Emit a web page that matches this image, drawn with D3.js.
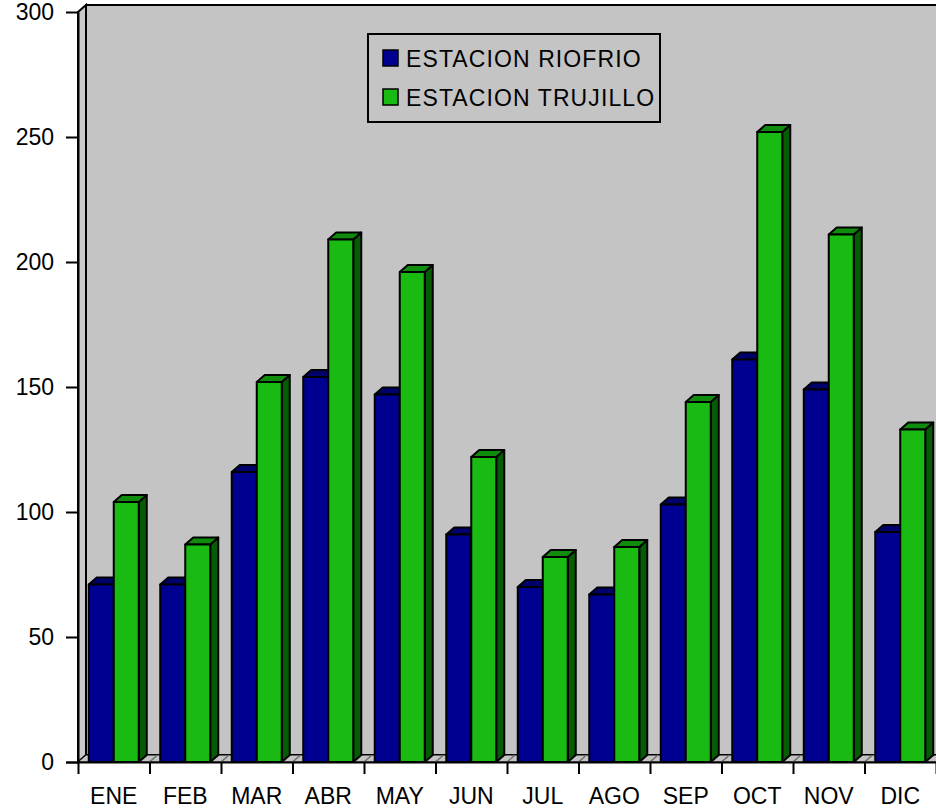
<!DOCTYPE html>
<html>
<head>
<meta charset="utf-8">
<script src="https://cdn.jsdelivr.net/npm/d3@7"></script>
<style>
	body { margin: 0; background: #fff; }
	text { font-family: "Liberation Sans", Arial, sans-serif; fill: #000; }
</style>
</head>
<body>
<script>
let months =	['ENE', 'FEB', 'MAR', 'ABR', 'MAY', 'JUN', 'JUL', 'AGO', 'SEP', 'OCT', 'NOV', 'DIC']
let riofrio =	[71, 71, 116, 154, 147, 91, 70, 67, 103, 161, 149, 92]
let trujillo =	[104, 87, 152, 209, 196, 122, 82, 86, 144, 252, 211, 133]
let seriesNames =	['ESTACION RIOFRIO', 'ESTACION TRUJILLO']
let yTicks =	[0, 50, 100, 150, 200, 250, 300]

let W = 936, H = 809
let x0 = 78, x1 = 936, yTop = 12, yBot = 762
let dx = 8, dy = -7
let bw = 25

let colors = [
	{front: '#000090', top: '#00006c', side: '#00004a'},
	{front: '#19ba12', top: '#0f8c0c', side: '#055c05'}
]
let wallFill = '#c4c4c4'
let font = '"Liberation Sans", Arial, sans-serif'

let svg = d3.select('body').append('svg')
	.attr('width', W).attr('height', H)

let x = d3.scaleBand().domain(months).range([x0, x1])
let xEdge = d3.scaleLinear().domain([0, months.length]).range([x0, x1])
let y = d3.scaleLinear().domain([0, 300]).range([yBot, yTop])

// walls
svg.append('rect')
	.attr('x', x0 + dx).attr('y', yTop + dy)
	.attr('width', x1 - x0 + 20).attr('height', (yBot + dy) - (yTop + dy))
	.attr('fill', wallFill).attr('stroke', '#000').attr('stroke-width', 2)
svg.append('path')
	.attr('d', `M${x0},${yTop}L${x0+dx},${yTop+dy}L${x0+dx},${yBot+dy}L${x0},${yBot}Z`)
	.attr('fill', '#cacaca').attr('stroke', '#000').attr('stroke-width', 2)
svg.append('path')
	.attr('d', `M${x0},${yBot}L${x0+dx},${yBot+dy}L${x1+40},${yBot+dy}L${x1+40},${yBot}Z`)
	.attr('fill', wallFill).attr('stroke', '#000').attr('stroke-width', 1)
svg.append('g').selectAll('line')
	.data(d3.range(1, months.length))
	.join('line')
	.attr('x1', d => xEdge(d)).attr('y1', yBot)
	.attr('x2', d => xEdge(d) + dx).attr('y2', yBot + dy)
	.attr('stroke', '#6e6e6e').attr('stroke-width', 1.5)

// legend
let lg = svg.append('g')
lg.append('rect')
	.attr('x', 368).attr('y', 34).attr('width', 292).attr('height', 88)
	.attr('fill', wallFill).attr('stroke', '#000').attr('stroke-width', 2)
seriesNames.forEach((name, i) => {
	lg.append('rect')
		.attr('x', 383).attr('y', 50 + i * 39).attr('width', 15).attr('height', 16)
		.attr('fill', colors[i].front).attr('stroke', '#000').attr('stroke-width', 1.5)
	lg.append('text')
		.attr('x', 406).attr('y', 67 + i * 39)
		.attr('font-size', 23).style('letter-spacing', '1.1px')
		.text(name)
})

// bars
let bars = []
months.forEach((m, i) => {
	bars.push({m: m, s: 0, v: riofrio[i]})
	bars.push({m: m, s: 1, v: trujillo[i]})
})
let barX = d => x(d.m) + x.bandwidth() / 2 - (d.s === 0 ? bw : 0)

let bg = svg.append('g').selectAll('g')
	.data(bars)
	.join('g')
	.attr('stroke', '#000').attr('stroke-width', 2).attr('stroke-linejoin', 'round')

bg.append('path')
	.attr('d', d => {
		let bx = barX(d), yv = y(d.v)
		return `M${bx+bw},${yv}L${bx+bw+dx},${yv+dy}L${bx+bw+dx},${yBot+dy}L${bx+bw},${yBot}Z`
	})
	.attr('fill', d => colors[d.s].side)
bg.append('path')
	.attr('d', d => {
		let bx = barX(d), yv = y(d.v)
		return `M${bx},${yv}L${bx+dx},${yv+dy}L${bx+bw+dx},${yv+dy}L${bx+bw},${yv}Z`
	})
	.attr('fill', d => colors[d.s].top)
bg.append('rect')
	.attr('x', d => barX(d)).attr('y', d => y(d.v))
	.attr('width', bw).attr('height', d => yBot - y(d.v))
	.attr('fill', d => colors[d.s].front)

// axes
let yAxis = svg.append('g')
	.attr('transform', `translate(${x0},0)`)
	.call(d3.axisLeft(y).tickValues(yTicks).tickSize(12).tickPadding(12).tickSizeOuter(0))
yAxis.selectAll('text').attr('font-size', 23).style('font-family', font)

let xTicks = svg.append('g')
	.attr('transform', `translate(0,${yBot})`)
	.call(d3.axisBottom(xEdge).tickValues(d3.range(0, months.length + 1)).tickFormat('').tickSize(12).tickSizeOuter(0))
xTicks.select('.domain').attr('d', `M${x0 - 12},0.5H${x1 + 20}`)

let xLabels = svg.append('g')
	.attr('transform', `translate(0,${yBot})`)
	.call(d3.axisBottom(x).tickSize(0).tickPadding(26))
xLabels.select('.domain').remove()
xLabels.selectAll('text').attr('font-size', 23).style('font-family', font)

svg.selectAll('.domain, .tick line').attr('stroke', '#000').attr('stroke-width', 2)
</script>
</body>
</html>
